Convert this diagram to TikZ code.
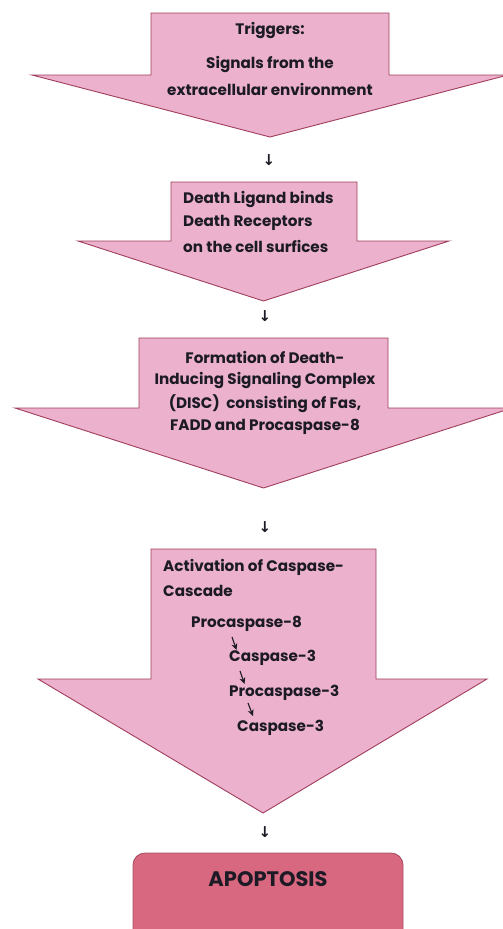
\documentclass[tikz,border=0pt]{standalone}
\usepackage{fontspec}
\setmainfont{Poppins}
\newfontfamily\arrowfont{DejaVu Sans}
\usetikzlibrary{arrows.meta}
\definecolor{pinkfill}{RGB}{235,177,205}
\definecolor{pinkline}{RGB}{160,62,92}
\definecolor{apofill}{RGB}{216,103,128}
\definecolor{apoline}{RGB}{165,80,100}
\definecolor{txt}{RGB}{28,26,36}
\tikzset{
  bigarrow/.style={fill=pinkfill, draw=pinkline, line width=0.9pt, line join=miter},
  body/.style={inner sep=0pt, text=txt, font={\fontsize{15.2}{23.5}\selectfont\bfseries}},
  smalldown/.style={inner sep=0pt, text=txt, font={\arrowfont\fontsize{15}{15}\selectfont\bfseries}},
  cascarrow/.style={-{Stealth[length=6.5pt,width=6pt]}, line width=1.1pt, draw=txt},
}
\begin{document}
\begin{tikzpicture}[x=1pt,y=-1pt]
\useasboundingbox (0,0) rectangle (503,929);
% big arrows
\draw[bigarrow] (151,13) -- (389,13) -- (389,75) -- (508,75) -- (270,137) -- (32,75) -- (151,75) -- cycle;
\draw[bigarrow] (171,182) -- (357,182) -- (357,241) -- (449,241) -- (263.5,301) -- (78,241) -- (171,241) -- cycle;
\draw[bigarrow] (139,338) -- (388,338) -- (388,408) -- (512,408) -- (263.5,488) -- (15,408) -- (139,408) -- cycle;
\draw[bigarrow] (151,549) -- (376,549) -- (376,679) -- (487,679) -- (263,813) -- (38,679) -- (151,679) -- cycle;
% apoptosis box
\draw[fill=apofill, draw=apoline, line width=0.9pt, rounded corners=12pt] (133,853) rectangle (403,945);
\node[body, font={\fontsize{21}{23}\selectfont\bfseries}] (apo) at (268,879) {APOPTOSIS};
% texts arrow 1
\node[body] (t1a) at (270,31) {Triggers:};
\node[body] (t1b) at (270,65) {Signals from the};
\node[body] (t1c) at (270,89) {extracellular environment};
% arrow 2
\node[body, anchor=west] (t2a) at (183,199) {Death Ligand binds};
\node[body, anchor=west] (t2b) at (183,223) {Death Receptors};
\node[body, anchor=west] (t2c) at (183,246) {on the cell surfices};
% arrow 3
\node[body] (t3a) at (265,357) {Formation of Death-};
\node[body] (t3b) at (265,380) {Inducing Signaling Complex};
\node[body] (t3c) at (265,404) {(DISC)\ \ consisting of Fas,};
\node[body] (t3d) at (265,427) {FADD and Procaspase-8};
% arrow 4
\node[body, anchor=west] (t4a) at (163,567) {Activation of Caspase-};
\node[body, anchor=west] (t4b) at (163,591) {Cascade};
\node[body, anchor=west] (c1) at (191,624) {Procaspase-8};
\node[body, anchor=west] (c2) at (229,658) {Caspase-3};
\node[body, anchor=west] (c3) at (229,693) {Procaspase-3};
\node[body, anchor=west] (c4) at (237,728) {Caspase-3};
\coordinate (a1s) at (232,637); \coordinate (a1e) at (236.5,650);
\coordinate (a2s) at (240,671); \coordinate (a2e) at (244.5,684);
\coordinate (a3s) at (248,703); \coordinate (a3e) at (253,716);
\draw[cascarrow] (a1s) -- (a1e);
\draw[cascarrow] (a2s) -- (a2e);
\draw[cascarrow] (a3s) -- (a3e);
% small down arrows
\node[smalldown] (d1) at (269,160) {↓};
\node[smalldown] (d2) at (265,316) {↓};
\node[smalldown] (d3) at (265,527) {↓};
\node[smalldown] (d4) at (265,832) {↓};
\end{tikzpicture}
\end{document}
